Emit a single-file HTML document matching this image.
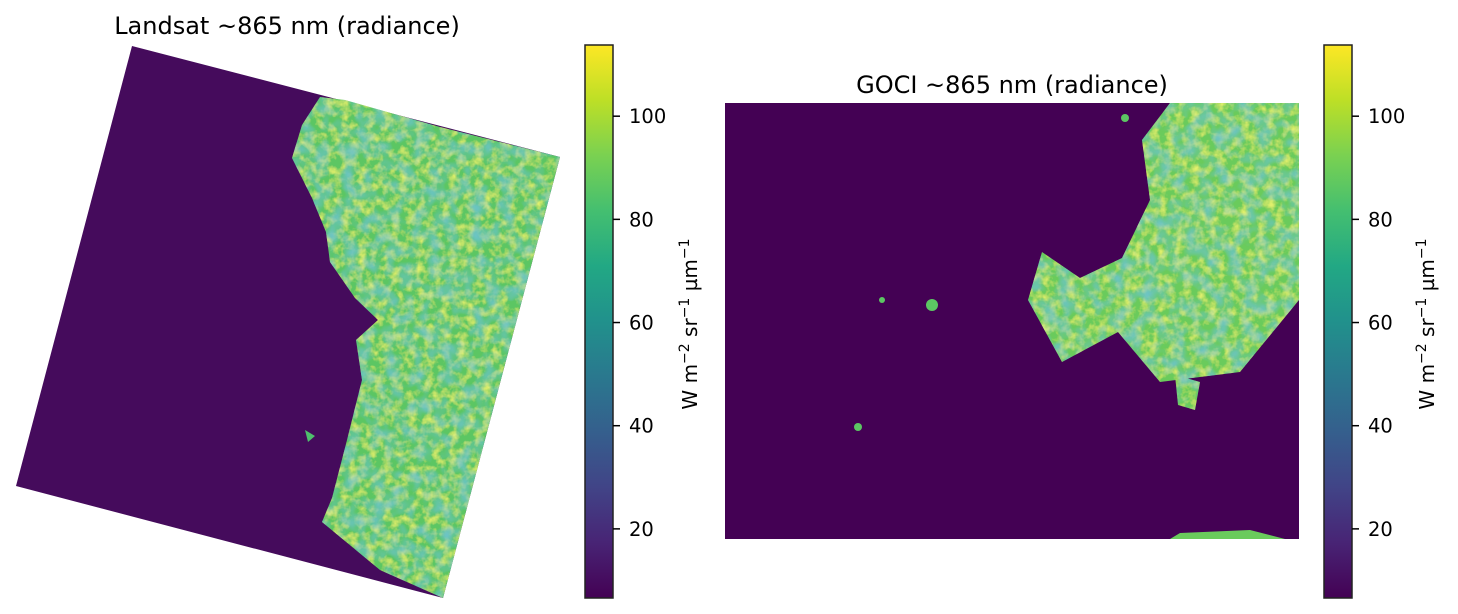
<!DOCTYPE html>
<html><head><meta charset="utf-8">
<style>
body{margin:0;background:#fff;font-family:"DejaVu Sans","Liberation Sans",sans-serif;}
svg{display:block}
text{font-family:"DejaVu Sans","Liberation Sans",sans-serif;}
</style></head>
<body>
<svg width="1458" height="614" viewBox="0 0 1458 614" xmlns="http://www.w3.org/2000/svg">
<defs>
<linearGradient id="viridis" x1="0" y1="1" x2="0" y2="0">
<stop offset="0" stop-color="#440154"/><stop offset="0.1" stop-color="#482475"/><stop offset="0.2" stop-color="#414487"/><stop offset="0.3" stop-color="#355f8d"/><stop offset="0.4" stop-color="#2a788e"/><stop offset="0.5" stop-color="#21918c"/><stop offset="0.6" stop-color="#22a884"/><stop offset="0.7" stop-color="#44bf70"/><stop offset="0.8" stop-color="#7ad151"/><stop offset="0.9" stop-color="#bddf26"/><stop offset="1" stop-color="#fde725"/>
</linearGradient>
<filter id="tex" x="0" y="0" width="100%" height="100%">
<feTurbulence type="fractalNoise" baseFrequency="0.12" numOctaves="3" seed="4" result="n"/>
<feColorMatrix in="n" type="matrix" values="0 0 0 0 0.75  0 0 0 0 0.87  0 0 0 0 0.15  0 0 0 2.2 -0.9" result="y"/>
<feComposite in="y" in2="SourceGraphic" operator="in" result="d"/>
<feTurbulence type="fractalNoise" baseFrequency="0.07" numOctaves="2" seed="9" result="n2"/>
<feColorMatrix in="n2" type="matrix" values="0 0 0 0 0.15  0 0 0 0 0.55  0 0 0 0 0.55  0 0 0 2 -0.8" result="c"/>
<feComposite in="c" in2="SourceGraphic" operator="in" result="e"/>
<feMerge><feMergeNode in="SourceGraphic"/><feMergeNode in="d"/><feMergeNode in="e"/></feMerge>
</filter>
</defs>

<text x="287" y="34" font-size="24" text-anchor="middle">Landsat ~865 nm (radiance)</text>
<g>
<polygon points="132,46 560,157 443,598 16,486" fill="#450b5c"/>
<polygon filter="url(#tex)" fill="#5cc663" points="320,97 302,125 292,158 312,198 326,232 330,262 355,298 378,320 356,340 362,380 352,420 346,444 332,498 322,522 380,570 443,598 560,157 440,127 345,100"/>
<polygon points="305,430 315,436 308,442" fill="#4fbf6d"/>
</g>

<text x="1012" y="93" font-size="24" text-anchor="middle">GOCI ~865 nm (radiance)</text>
<g>
<rect x="725" y="103" width="574" height="436" fill="#440154"/>
<polygon filter="url(#tex)" fill="#6acb5c" points="1170,103 1142,140 1150,200 1122,258 1080,278 1042,252 1028,300 1062,362 1118,332 1160,382 1240,372 1299,300 1299,103"/>
<polygon filter="url(#tex)" fill="#6acb5c" points="1175,375 1200,382 1195,410 1178,405"/>
<polygon fill="#6acb5c" points="1180,533 1250,530 1285,539 1170,539"/>
<circle cx="932" cy="305" r="6" fill="#5cc663"/><circle cx="882" cy="300" r="3" fill="#5cc663"/><circle cx="858" cy="427" r="4" fill="#5cc663"/><circle cx="1125" cy="118" r="4" fill="#5cc663"/>
</g>

<g id="cb1"></g>
<g id="cb2"></g>
<text transform="translate(697,324) rotate(-90)" font-size="20" text-anchor="middle">W m<tspan dy="-8" font-size="14">−2</tspan><tspan dy="8"> sr</tspan><tspan dy="-8" font-size="14">−1</tspan><tspan dy="8"> µm</tspan><tspan dy="-8" font-size="14">−1</tspan></text>
<text transform="translate(1434,324) rotate(-90)" font-size="20" text-anchor="middle">W m<tspan dy="-8" font-size="14">−2</tspan><tspan dy="8"> sr</tspan><tspan dy="-8" font-size="14">−1</tspan><tspan dy="8"> µm</tspan><tspan dy="-8" font-size="14">−1</tspan></text>
</svg>
<script>
const cbTicks=[20,40,60,80,100];
const cbMin=6.6, cbMax=113.8;
const NS="http://www.w3.org/2000/svg";
function yScale(v){return 598-(v-cbMin)/(cbMax-cbMin)*553;}
function drawCb(id,x){
  const g=document.getElementById(id);
  const r=document.createElementNS(NS,'rect');
  r.setAttribute('x',x);r.setAttribute('y',45);r.setAttribute('width',28);r.setAttribute('height',553);
  r.setAttribute('fill','url(#viridis)');r.setAttribute('stroke','#222');r.setAttribute('stroke-width','1.5');
  
  
  g.appendChild(r);
  cbTicks.forEach(t=>{
    const y=yScale(t);
    const l=document.createElementNS(NS,'line');
    l.setAttribute('x1',x+28);l.setAttribute('x2',x+35);l.setAttribute('y1',y);l.setAttribute('y2',y);l.setAttribute('stroke','#000');l.setAttribute('stroke-width','1.5');
    
    
    g.appendChild(l);
    const tx=document.createElementNS(NS,'text');
    tx.setAttribute('x',x+44);tx.setAttribute('y',y+7);tx.setAttribute('font-size','19.5');tx.textContent=t;
    
    
    g.appendChild(tx);
  });
}
drawCb('cb1',585);
drawCb('cb2',1324);
</script>
</body></html>
